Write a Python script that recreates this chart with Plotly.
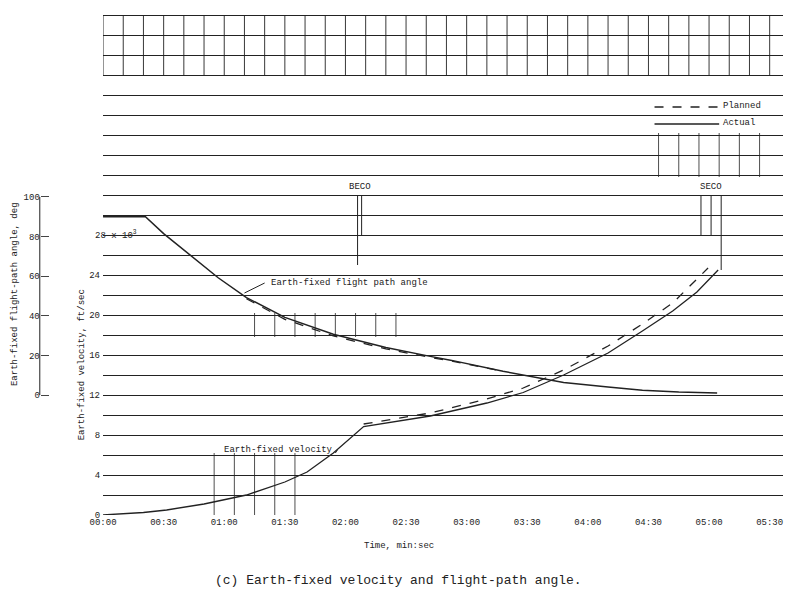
import plotly.graph_objects as go

# Data (time in seconds)
ang_t_act = [0, 21, 30, 43, 57, 71, 90, 114, 140, 162, 172, 198, 228, 250, 267, 285, 304]
ang_act = [90, 90, 81.5, 70.6, 59.2, 49.2, 39.2, 30.7, 24.0, 19.5, 17.6, 12.0, 6.3, 4.0, 2.4, 1.5, 1.0]
ang_t_pln = [71, 90, 114, 140, 162, 172, 198]
ang_pln = [48.6, 38.2, 29.8, 23.3, 19.0, 17.2, 12.0]

vel_t_act = [0, 10, 20, 31.5, 50, 71, 90, 101, 114, 129, 162, 190, 208, 228, 250, 267, 282, 294, 304.5]
vel_act = [0, 0.1, 0.25, 0.5, 1.1, 2.0, 3.3, 4.3, 6.2, 8.85, 9.9, 11.2, 12.25, 14.0, 16.2, 18.4, 20.4, 22.3, 24.5]
vel_t_pln = [129, 162, 190, 208, 228, 250, 267, 282, 299.5]
vel_pln = [9.1, 10.2, 11.6, 12.7, 14.5, 16.9, 19.1, 21.2, 24.7]

x_tickvals = list(range(0, 331, 30))
x_ticktext = ["00:00", "00:30", "01:00", "01:30", "02:00", "02:30", "03:00", "03:30", "04:00", "04:30", "05:00", "05:30"]
v_tickvals = [0, 4, 8, 12, 16, 20, 24]
a_tickvals = [0, 20, 40, 60, 80, 100]

MONO = "Liberation Mono"
ink = "#222"

fig = go.Figure()
fig.add_trace(go.Scatter(x=vel_t_act, y=vel_act, mode="lines", line=dict(color=ink, width=1.3), showlegend=False))
fig.add_trace(go.Scatter(x=vel_t_pln, y=vel_pln, mode="lines", line=dict(color=ink, width=1.3, dash="dash"), showlegend=False))
fig.add_trace(go.Scatter(x=ang_t_act, y=ang_act, mode="lines", yaxis="y2", line=dict(color=ink, width=1.5), showlegend=False))
fig.add_trace(go.Scatter(x=ang_t_pln, y=ang_pln, mode="lines", yaxis="y2", line=dict(color=ink, width=1.3, dash="dash"), showlegend=False))

shapes = []
for t in range(0, 340, 10):
    shapes.append(dict(type="line", x0=t, x1=t, y0=43.9, y1=50, xref="x", yref="y", line=dict(color=ink, width=0.9)))
for t, y0 in [(126, 25.0), (128, 28)]:
    shapes.append(dict(type="line", x0=t, x1=t, y0=y0, y1=32, xref="x", yref="y", line=dict(color=ink, width=1)))
for t, y0 in [(296, 28), (301, 28), (306, 24.5)]:
    shapes.append(dict(type="line", x0=t, x1=t, y0=y0, y1=32, xref="x", yref="y", line=dict(color=ink, width=1)))
for t in range(55, 105, 10):
    shapes.append(dict(type="line", x0=t, x1=t, y0=0, y1=6.2, xref="x", yref="y", line=dict(color=ink, width=0.8)))
for t in range(75, 150, 10):
    shapes.append(dict(type="line", x0=t, x1=t, y0=17.8, y1=20.2, xref="x", yref="y", line=dict(color=ink, width=0.8)))
for t in range(275, 330, 10):
    shapes.append(dict(type="line", x0=t, x1=t, y0=33.8, y1=38.2, xref="x", yref="y", line=dict(color=ink, width=0.8)))
shapes.append(dict(type="line", x0=273, x1=305, y0=40.8, y1=40.8, xref="x", yref="y", line=dict(color=ink, width=1.5, dash="dash")))
shapes.append(dict(type="line", x0=273, x1=305, y0=39.1, y1=39.1, xref="x", yref="y", line=dict(color=ink, width=1.5)))
shapes.append(dict(type="line", x0=80, x1=70, y0=23.2, y1=22.2, xref="x", yref="y", line=dict(color=ink, width=1)))
shapes.append(dict(type="line", x0=116, x1=115, y0=6.5, y1=6.2, xref="x", yref="y", line=dict(color=ink, width=1)))
shapes.append(dict(type="line", x0=0.013, x1=0.013, y0=0, y1=100, xref="paper", yref="y2", line=dict(color=ink, width=1)))

ann = [
    dict(x=306, y=40.9, text="Planned", xanchor="left", showarrow=False),
    dict(x=306, y=39.2, text="Actual", xanchor="left", showarrow=False),
    dict(x=127, y=32.8, text="BECO", showarrow=False),
    dict(x=301, y=32.8, text="SECO", showarrow=False),
    dict(x=82, y=23.2, text="Earth-fixed flight path angle", xanchor="left", showarrow=False),
    dict(x=115, y=6.5, text="Earth-fixed velocity", xanchor="right", showarrow=False),
    dict(x=0.0837, y=28, xref="paper", text="28 x 10<sup>3</sup>", xanchor="left", showarrow=False),
    dict(x=-0.02, y=0.44, xref="paper", yref="paper", text="Earth-fixed flight-path angle, deg", textangle=-90, yanchor="middle", xanchor="center", showarrow=False),
    dict(x=0.069, y=0.3, xref="paper", yref="paper", text="Earth-fixed velocity, ft/sec", textangle=-90, yanchor="middle", xanchor="center", showarrow=False),
    dict(x=0.49, y=-0.075, xref="paper", yref="paper", text="Time, min:sec", showarrow=False),
    dict(x=0.49, y=-0.15, xref="paper", yref="paper", text="(c) Earth-fixed velocity and flight-path angle.", showarrow=False, font=dict(size=13, family=MONO, color=ink)),
]

fig.update_layout(
    width=800, height=609,
    margin=dict(l=30, r=17, t=13, b=94, autoexpand=False),
    paper_bgcolor="white", plot_bgcolor="white",
    font=dict(family=MONO, size=9, color=ink),
    xaxis=dict(domain=[0.097, 1], range=[0, 336.6], tickvals=x_tickvals, ticktext=x_ticktext,
               showgrid=False, zeroline=False, showline=False, ticks="", automargin=False),
    yaxis=dict(range=[0, 50.2], tickvals=v_tickvals, showgrid=False, ticks="", zeroline=False,
               showline=False, automargin=False, ticklabelstandoff=2,
               minor=dict(tickvals=list(range(0, 51, 2)), showgrid=True, gridcolor=ink, gridwidth=1)),
    yaxis2=dict(overlaying="y", anchor="free", position=0.013, side="left", automargin=False,
                range=[-60.6, 192.9], tickvals=a_tickvals, ticks="inside", ticklen=8,
                showgrid=False, zeroline=False, showline=False),
    shapes=shapes, annotations=ann,
)
fig.write_html("out.html", config={"displayModeBar": False},
               post_script="document.body.style.margin='0';")
